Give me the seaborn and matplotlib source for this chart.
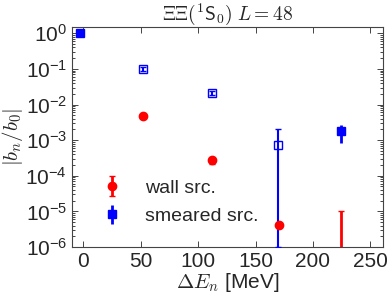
import numpy as np
import matplotlib
import matplotlib.pyplot as plt
import seaborn as sns

matplotlib.use("Agg")

# data
wall_x = [52, 112, 170, 224.5]
wall_y = [4.8e-3, 2.7e-4, 4.2e-6, 2e-7]
wall_lo = [0.4e-3, 0.5e-4, 0.3e-6, 1.99e-7]
wall_hi = [0.4e-3, 0.5e-4, 0.3e-6, 9.8e-6]

smr_x = [-3, 52, 112, 169.5, 224.5]
smr_y = [1.0, 0.1, 0.021, 7.2e-4, 1.8e-3]
smr_lo = [0.02, 0.012, 0.003, 7.19e-4, 0.95e-3]
smr_hi = [0.02, 0.012, 0.003, 1.3e-3, 0.8e-3]
smr_open = [False, True, True, True, False]

sns.set_style("ticks")
plt.rcParams["font.family"] = ["Liberation Sans", "DejaVu Sans"]
plt.rcParams["mathtext.fontset"] = "cm"

fig = plt.figure(figsize=(3.91, 2.98), dpi=100)
ax = fig.add_axes([72 / 391, 1 - 247 / 298, (383 - 72) / 391, (247 - 27) / 298])

red = "#ff0000"
blue = "#0000ff"

ax.set_yscale("log", nonpositive="clip")

h_wall = ax.errorbar(wall_x, wall_y, yerr=[wall_lo, wall_hi], fmt="o", color=red,
                     ms=6, elinewidth=2, capsize=2, capthick=1, zorder=3)
for x, y, lo, hi, op in zip(smr_x, smr_y, smr_lo, smr_hi, smr_open):
    h = ax.errorbar([x], [y], yerr=[[lo], [hi]], fmt="s", color=blue,
                    mfc="none" if op else blue, mec=blue,
                    ms=5.3 if op else 6, mew=1.0,
                    elinewidth=1.5 if op else 2, capsize=2 if op else 0,
                    capthick=1, zorder=3)
    if not op:
        h_smr = h

ax.set_xlim(-10, 261)
ax.set_ylim(1e-6, 1.5)
ax.set_xticks([0, 50, 100, 150, 200, 250])
ax.set_yticks([1e0, 1e-1, 1e-2, 1e-3, 1e-4, 1e-5, 1e-6])
ax.tick_params(axis="both", which="both", direction="in", top=True, right=True,
               labelsize=15, width=0.6)
ax.tick_params(axis="both", which="major", length=4)
ax.tick_params(axis="y", which="minor", length=2)
ax.minorticks_on()
ax.xaxis.set_minor_locator(matplotlib.ticker.NullLocator())
ax.yaxis.set_minor_locator(matplotlib.ticker.LogLocator(base=10, subs=np.arange(2, 10), numticks=20))
for sp in ax.spines.values():
    sp.set_linewidth(0.8)
    sp.set_color("#444444")

ax.set_title(r"$\Xi\Xi(^1\mathsf{S}_0)\ L=48$", fontsize=14, pad=3)
ax.set_xlabel(r"$\Delta E_n$ [MeV]", fontsize=15, labelpad=0)
ax.set_ylabel(r"$|b_n/b_0|$", fontsize=15, labelpad=0)

ax.legend([h_wall, h_smr], ["wall src.", "smeared src."], loc="lower left",
          bbox_to_anchor=(0.035, 0.02), frameon=False, fontsize=14,
          handlelength=1.2, handletextpad=1.1, labelspacing=0.55)

fig.savefig("out.png", dpi=100)
